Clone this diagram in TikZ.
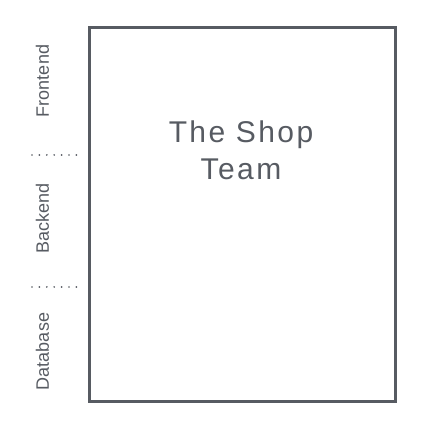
\documentclass[tikz,border=0pt]{standalone}
\usepackage{fontspec}
\setmainfont{Liberation Sans}
\newfontfamily\bigfont[LetterSpace=8]{Liberation Sans}
\definecolor{ink}{HTML}{575B62}
\begin{document}
\begin{tikzpicture}[x=1pt,y=1pt,
  teambox/.style={draw=ink, line width=3pt},
  sidelabel/.style={rotate=90, anchor=base, inner sep=0pt, text=ink, font=\fontsize{18}{20}\selectfont},
  divider/.style={draw=ink, line width=1.9pt, line cap=round, dash pattern=on 0pt off 7.4pt},
  title/.style={align=center, text=ink, inner sep=0pt, anchor=base, font=\bigfont\fontsize{30}{37}\selectfont}]
\useasboundingbox (0,0) rectangle (426,426);
\node[teambox, minimum width=305.5pt, minimum height=374pt, inner sep=0pt, anchor=north west] (box) at (88,400) {};
\node[title] (team) at (241,246) {The Shop\\Team};
\node[sidelabel] (fe) at (49,345) {Frontend};
\node[sidelabel] (be) at (49,207.5) {Backend};
\node[sidelabel] (db) at (49,74.5) {Database};
\coordinate (d1s) at (32,271);
\coordinate (d1e) at (80,271);
\coordinate (d2s) at (32,139);
\coordinate (d2e) at (80,139);
\draw[divider] (d1s) -- (d1e);
\draw[divider] (d2s) -- (d2e);
\end{tikzpicture}
\end{document}
